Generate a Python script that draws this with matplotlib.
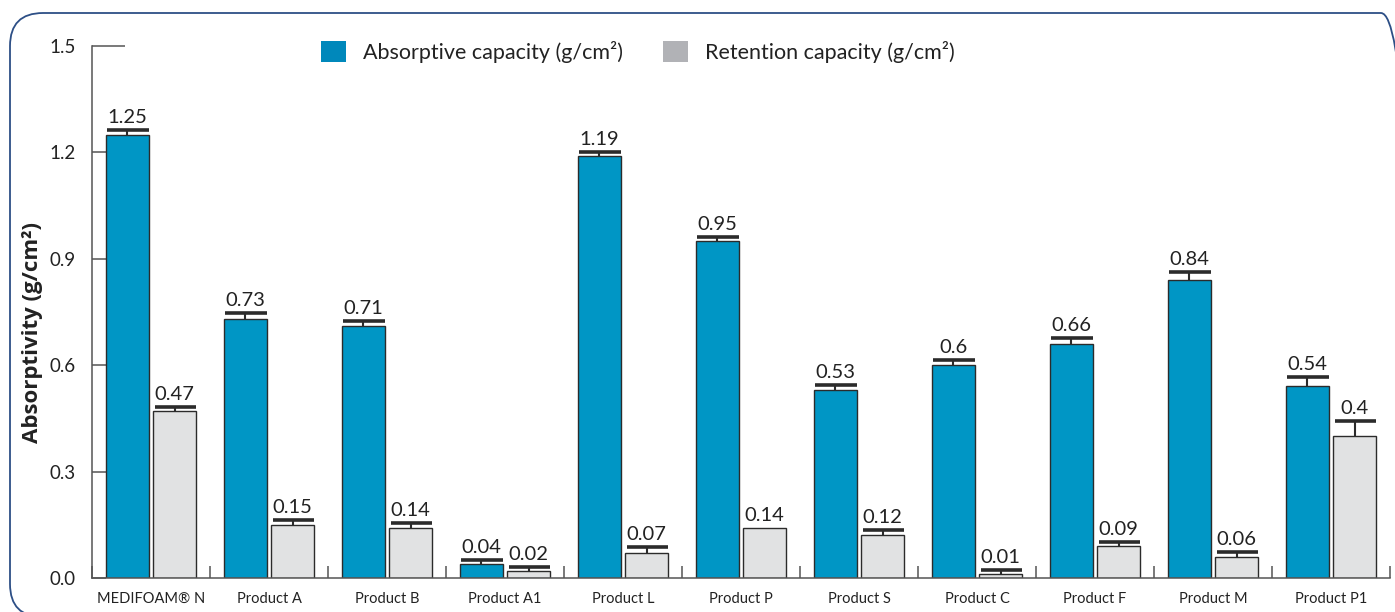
import matplotlib

matplotlib.use("Agg")
import matplotlib.pyplot as plt
import numpy as np
from matplotlib.patches import FancyBboxPatch, Patch

products = ["MEDIFOAM\u00ae N", "Product A", "Product B", "Product A1", "Product L",
            "Product P", "Product S", "Product C", "Product F", "Product M", "Product P1"]
absorptive = [1.25, 0.73, 0.71, 0.04, 1.19, 0.95, 0.53, 0.60, 0.66, 0.84, 0.54]
absorptive_err = [0.013, 0.017, 0.014, 0.010, 0.012, 0.012, 0.015, 0.015, 0.017, 0.022, 0.027]
retention = [0.47, 0.15, 0.14, 0.02, 0.07, 0.14, 0.12, 0.01, 0.09, 0.06, 0.40]
retention_err = [0.012, 0.013, 0.014, 0.010, 0.018, 0.0, 0.014, 0.012, 0.012, 0.014, 0.042]
yticks = [0.0, 0.3, 0.6, 0.9, 1.2, 1.5]

BLUE = "#0096c5"
BLUE_LEG = "#0088bb"
GREY = "#e1e2e3"
GREY_LEG = "#b1b2b6"
DARK = "#2b2b2b"
AXIS = "#555555"

plt.rcParams["font.family"] = ["Lato", "DejaVu Sans"]

fig = plt.figure(figsize=(13.95, 6.12), dpi=100)
ax = fig.add_axes([92 / 1395, 34 / 612, 1298 / 1395, 532 / 612])

x = np.arange(len(products))
w = 0.36
off = 0.2

ax.bar(x - off, absorptive, w, color=BLUE, edgecolor=DARK, linewidth=1.0, zorder=2)
ax.bar(x + off, retention, w, color=GREY, edgecolor=DARK, linewidth=1.0, zorder=2)

# only the upper half of each error bar is drawn
for xs, vals, errs in [(x - off, absorptive, absorptive_err), (x + off, retention, retention_err)]:
    for xi, v, e in zip(xs, vals, errs):
        if e > 0:
            ax.vlines(xi, v, v + e, color=DARK, linewidth=1.5, zorder=3)
            ax.hlines(v + e, xi - w / 2 + 0.01, xi + w / 2, color=DARK, linewidth=2.6, zorder=3)
        ax.annotate(f"{v:g}", (xi, v + e), textcoords="offset points", xytext=(0, 3),
                    ha="center", va="bottom", fontsize=14.5, color="#222222")

ax.set_xlim(-0.5, len(products) - 0.5)
ax.set_ylim(0, 1.5)
ax.set_yticks(yticks)
ax.set_yticklabels([f"{t:.1f}" for t in yticks])
ax.set_xticks(np.arange(len(products) + 1) - 0.5)
ax.set_xticklabels([])
ax.set_xticks(x, minor=True)
ax.set_xticklabels(products, minor=True)

ax.tick_params(axis="y", direction="in", length=10, width=1.1, color=AXIS,
               labelsize=13.5, pad=11.5, labelcolor="#222222")
ax.tick_params(axis="x", which="major", direction="in", length=9, width=1.1, color=AXIS)
ax.tick_params(axis="x", which="minor", length=0, labelsize=10.5, pad=10, labelcolor="#222222")
# the top tick runs out further, like a short cap on the axis
ax.yaxis.get_major_ticks()[-1].tick1line.set_markersize(24)

for s in ["top", "right"]:
    ax.spines[s].set_visible(False)
for s in ["left", "bottom"]:
    ax.spines[s].set_color(AXIS)
    ax.spines[s].set_linewidth(1.1)

ax.set_ylabel("Absorptivity (g/cm\u00b2)", fontsize=16, fontweight="bold",
              family=["Open Sans", "DejaVu Sans"], color="#222222")
ax.yaxis.set_label_coords(-0.0377, 0.462)

handles = [Patch(facecolor=BLUE_LEG, edgecolor="none"), Patch(facecolor=GREY_LEG, edgecolor="none")]
fig.legend(handles, ["Absorptive capacity (g/cm\u00b2)", "Retention capacity (g/cm\u00b2)"],
           loc="center", bbox_to_anchor=(638 / 1395, 1 - 52 / 612), ncol=2, frameon=False,
           fontsize=15.5, handlelength=1.15, handleheight=1.15, handletextpad=0.8,
           columnspacing=1.85, labelcolor="#222222")

frame = FancyBboxPatch((0.10, -0.05), 14.04, 6.04,
                       boxstyle="round,pad=0,rounding_size=0.33",
                       transform=fig.dpi_scale_trans, facecolor="none",
                       edgecolor="#2d4f86", linewidth=1.3)
fig.patches.append(frame)

fig.savefig("out.png", dpi=100)
